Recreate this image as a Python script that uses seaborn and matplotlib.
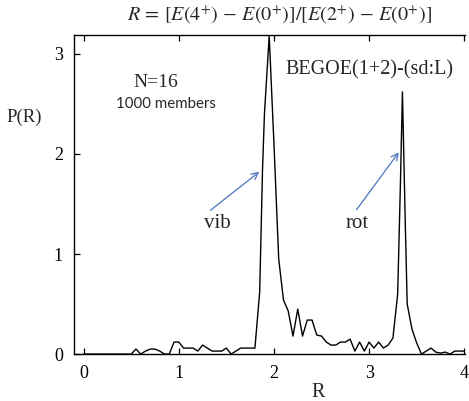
import matplotlib
matplotlib.use("Agg")
import matplotlib.pyplot as plt
import seaborn as sns

sns.set_theme(style="white")
plt.rcParams["font.family"] = ["Liberation Serif", "DejaVu Serif"]
plt.rcParams["mathtext.fontset"] = "stix"

# P(R) distribution
R_vals = [0.00, 0.05, 0.10, 0.15, 0.20, 0.25, 0.30, 0.35, 0.40, 0.45, 0.50,
          0.55, 0.60, 0.65, 0.70, 0.75, 0.80, 0.85, 0.90, 0.95, 1.00,
          1.05, 1.10, 1.15, 1.20, 1.25, 1.30, 1.35, 1.40, 1.45, 1.50,
          1.55, 1.60, 1.65, 1.70, 1.75, 1.80, 1.85, 1.88, 1.90, 1.95, 2.00,
          2.05, 2.10, 2.15, 2.20, 2.25, 2.30, 2.35, 2.40, 2.45, 2.50,
          2.55, 2.60, 2.65, 2.70, 2.75, 2.80, 2.85, 2.90, 2.95, 3.00,
          3.05, 3.10, 3.15, 3.20, 3.25, 3.30, 3.33, 3.35, 3.38, 3.40, 3.45, 3.50,
          3.55, 3.60, 3.65, 3.70, 3.75, 3.80, 3.85, 3.90, 3.95, 4.00]
P_vals = [0.00, 0.00, 0.00, 0.00, 0.00, 0.00, 0.00, 0.00, 0.00, 0.00, 0.00,
          0.05, 0.00, 0.03, 0.05, 0.05, 0.03, 0.00, 0.00, 0.12, 0.12,
          0.06, 0.06, 0.06, 0.03, 0.09, 0.06, 0.03, 0.03, 0.03, 0.06,
          0.00, 0.03, 0.06, 0.06, 0.06, 0.06, 0.62, 1.85, 2.40, 3.18, 2.10,
          0.95, 0.54, 0.43, 0.18, 0.45, 0.18, 0.34, 0.34, 0.19, 0.18,
          0.12, 0.09, 0.09, 0.12, 0.12, 0.15, 0.03, 0.12, 0.03, 0.12,
          0.06, 0.12, 0.06, 0.09, 0.16, 0.60, 1.75, 2.62, 1.30, 0.50, 0.25, 0.11,
          0.00, 0.03, 0.06, 0.02, 0.01, 0.02, 0.00, 0.03, 0.03, 0.03]

x_ticks = [0, 1, 2, 3, 4]
y_ticks = [0, 1, 2, 3]

arrow_color = "#5B7FC4"

fig = plt.figure(figsize=(4.69, 4.01), dpi=100)
ax = fig.add_axes([0.158, 0.117, 0.834, 0.796])

sns.lineplot(x=R_vals, y=P_vals, color="black", linewidth=1.0, ax=ax)

ax.set_xlim(-0.1, 4.01)
ax.set_ylim(0, 3.19)
ax.set_xticks(x_ticks)
ax.set_yticks(y_ticks)
ax.tick_params(axis="both", direction="in", length=4, width=0.9, colors="black",
               labelsize=13, top=True, bottom=True, left=True, right=False)
ax.tick_params(axis="x", pad=8)
ax.tick_params(axis="y", pad=8)

for side in ["left", "bottom", "top"]:
    ax.spines[side].set_color("black")
    ax.spines[side].set_linewidth(1.0)
ax.spines["right"].set_visible(False)

ax.set_xlabel("R", fontsize=14.5)
ax.xaxis.set_label_coords(0.623, -0.12)
ax.xaxis.label.set_va("center")
ax.set_ylabel("P(R)", fontsize=13.5, rotation=0)
ax.yaxis.set_label_coords(-0.127, 0.743)
ax.yaxis.label.set_va("center")
ax.yaxis.label.set_ha("center")

ax.text(0.526, 1.063,
        r"$R\,=\,[E(4^{+})\,-\,E(0^{+})]/[E(2^{+})\,-\,E(0^{+})]$",
        transform=ax.transAxes, ha="center", va="center", fontsize=14.5)

ax.text(0.76, 2.71, "N=16", fontsize=14, ha="center", va="center")
ax.text(0.87, 2.50, "1000 members", fontsize=10.8, ha="center", va="center",
        family=["Lato", "DejaVu Sans"])
ax.text(3.0, 2.84, "BEGOE(1+2)-(sd:L)", fontsize=14.5, ha="center", va="center")

ax.annotate("", xy=(1.87, 1.84), xytext=(1.31, 1.42),
            arrowprops=dict(arrowstyle="->", color=arrow_color, lw=1.0))
ax.annotate("", xy=(3.33, 2.04), xytext=(2.85, 1.42),
            arrowprops=dict(arrowstyle="->", color=arrow_color, lw=1.0))
ax.text(1.41, 1.31, "vib", fontsize=15, ha="center", va="center")
ax.text(2.87, 1.31, "rot", fontsize=15, ha="center", va="center")

fig.savefig("out.png", dpi=100, facecolor="white")
